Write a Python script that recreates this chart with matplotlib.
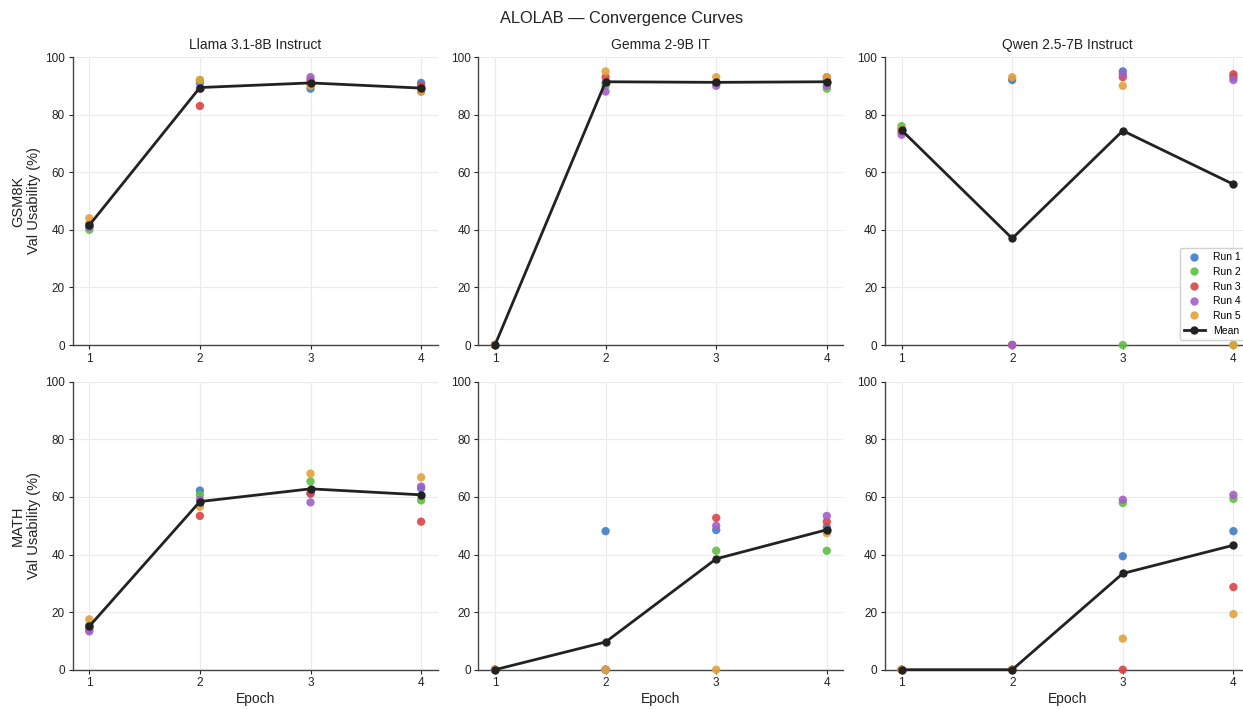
import numpy as np
import matplotlib
matplotlib.use("Agg")
import matplotlib.pyplot as plt
from matplotlib.lines import Line2D

plt.rcParams['font.family'] = ['Liberation Sans', 'DejaVu Sans']

epochs = [1, 2, 3, 4]
models = ["Llama 3.1-8B Instruct", "Gemma 2-9B IT", "Qwen 2.5-7B Instruct"]
datasets = ["GSM8K", "MATH"]
run_names = ["Run 1", "Run 2", "Run 3", "Run 4", "Run 5"]
run_colors = ["#3e7cc8", "#5cbf42", "#dc4445", "#a45fc8", "#e3a13c"]

# values per run (rows) over epochs (columns)
llama_gsm8k = [[41, 91, 89, 91],
               [40, 92, 91, 89],
               [42, 83, 92, 90],
               [41, 89, 93, 88],
               [44, 92, 90, 88]]
gemma_gsm8k = [[0, 91, 91, 92],
               [0, 90, 91, 89],
               [0, 93, 91, 93],
               [0, 88, 90, 90],
               [0, 95, 93, 93]]
qwen_gsm8k = [[75, 92, 95, 93],
              [76, 0, 0, 0],
              [74, 0, 93, 94],
              [73, 0, 94, 92],
              [75, 93, 90, 0]]
llama_math = [[15.0, 62.2, 61.1, 63.0],
              [15.5, 60.7, 65.4, 58.8],
              [14.0, 53.4, 61.3, 51.4],
              [13.3, 59.0, 58.1, 63.6],
              [17.5, 56.6, 68.1, 66.8]]
gemma_math = [[0, 48.1, 48.5, 49.5],
              [0, 0, 41.3, 41.3],
              [0, 0, 52.7, 51.4],
              [0, 0, 50.0, 53.4],
              [0, 0, 0, 47.4]]
qwen_math = [[0, 0, 39.4, 48.1],
             [0, 0, 57.9, 59.3],
             [0, 0, 0, 28.7],
             [0, 0, 59.0, 60.7],
             [0, 0, 10.8, 19.3]]

grid_data = [[llama_gsm8k, gemma_gsm8k, qwen_gsm8k],
             [llama_math, gemma_math, qwen_math]]

W, H = 1243, 709
fig = plt.figure(figsize=(W / 100, H / 100), dpi=100)

lefts = [72.7, 478.4, 885.0]
width = 365.0
tops = [57.0, 381.7]
height = 288.0

axes = []
for r in range(2):
    row = []
    for c in range(3):
        ax = fig.add_axes([lefts[c] / W, (H - tops[r] - height) / H, width / W, height / H])
        row.append(ax)
    axes.append(row)

for r in range(2):
    for c in range(3):
        ax = axes[r][c]
        data = np.array(grid_data[r][c], dtype=float)
        for i in range(5):
            ax.scatter(epochs, data[i], s=36, color=run_colors[i], alpha=0.9,
                       edgecolors='none', zorder=3, clip_on=False)
        mean = data.mean(axis=0)
        ax.plot(epochs, mean, color='#222222', lw=2, marker='o', ms=5,
                zorder=4, clip_on=False)
        ax.set_ylim(0, 100)
        ax.set_xlim(0.85, 4.15)
        ax.set_xticks(epochs)
        ax.set_yticks([0, 20, 40, 60, 80, 100])
        ax.grid(True, color='#ebebeb', lw=0.8)
        ax.set_axisbelow(True)
        for s in ['top', 'right']:
            ax.spines[s].set_visible(False)
        for s in ['left', 'bottom']:
            ax.spines[s].set_color('#444444')
            ax.spines[s].set_linewidth(1.0)
        ax.tick_params(labelsize=8.5, colors='#222222', length=3, width=0.8, pad=2.5)
        if r == 0:
            ax.set_title(models[c], fontsize=10, color='#222222', pad=6)
        if r == 1:
            ax.set_xlabel("Epoch", fontsize=10, color='#222222', labelpad=2)
        if c == 0:
            ax.set_ylabel(datasets[r] + "\nVal Usability (%)", fontsize=10.5,
                          color='#222222', labelpad=3)

handles = [Line2D([], [], ls='none', marker='o', ms=6, color=run_colors[i], alpha=0.9,
                  markeredgecolor='none', label=run_names[i]) for i in range(5)]
handles.append(Line2D([], [], color='#222222', lw=2, marker='o', ms=5, label='Mean'))
axes[0][2].legend(handles=handles, loc='lower right', fontsize=7.5, frameon=True,
                  framealpha=0.9, edgecolor='#cccccc', handlelength=2.0,
                  labelspacing=0.45, borderpad=0.4)

fig.suptitle("ALOLAB — Convergence Curves", fontsize=11.8, y=1 - 18 / H, va='center',
             color='#222222')

fig.savefig("out.png", dpi=100)
